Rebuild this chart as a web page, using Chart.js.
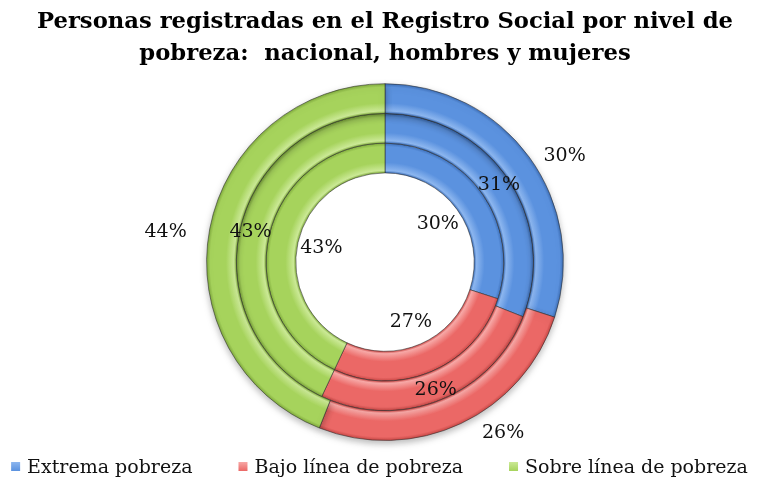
<!DOCTYPE html>
<html>
<head>
<meta charset="utf-8">
<script src="https://cdn.jsdelivr.net/npm/chart.js@4"></script>
<style>
html,body{margin:0;padding:0;background:#fff;}
canvas{display:block;}
</style>
</head>
<body>
<canvas id="c" width="759" height="486"></canvas>
<script>
const titleLines = ['Personas registradas en el Registro Social por nivel de', 'pobreza:  nacional, hombres y mujeres'];
const categories = ['Extrema pobreza', 'Bajo línea de pobreza', 'Sobre línea de pobreza'];
const seriesNames = ['Nacional', 'Hombres', 'Mujeres'];
const outerValues = [30, 26, 44];
const middleValues = [31, 26, 43];
const innerValues = [30, 27, 43];

const baseColors = ['#5b92df', '#eb6866', '#a6d35c'];
const lightColors = ['#8cb6ef', '#f7a8a6', '#cbe996'];
const darkColors = ['#3d6fb8', '#c84745', '#7faa3c'];
const FONT = "'DejaVu Serif', serif";

// label placement style (angle nudge in degrees, radial gap in px) for the outer ring labels
const outerLabelStyle = [{ da: 5.5, gap: 30 }, { da: -9.5, gap: 29 }, { da: -3, gap: 43 }];

function ringFill(ctx) {
  const chart = ctx.chart;
  const i = ctx.dataIndex;
  const area = chart.chartArea;
  if (!area) return baseColors[i];
  const meta = chart.getDatasetMeta(ctx.datasetIndex);
  const ctrl = meta.controller;
  if (!ctrl || !ctrl.outerRadius) return baseColors[i];
  const cx = (area.left + area.right) / 2;
  const cy = (area.top + area.bottom) / 2;
  const g = chart.ctx.createRadialGradient(cx, cy, ctrl.innerRadius, cx, cy, ctrl.outerRadius);
  g.addColorStop(0, darkColors[i]);
  g.addColorStop(0.08, lightColors[i]);
  g.addColorStop(0.35, baseColors[i]);
  g.addColorStop(0.88, baseColors[i]);
  g.addColorStop(1, darkColors[i]);
  return g;
}

const shadowPlugin = {
  id: 'ringShadow',
  beforeDatasetDraw(chart, args) {
    if (args.index !== 0) return;
    const ctx = chart.ctx;
    ctx.save();
    ctx.shadowColor = 'rgba(0,0,0,0.28)';
    ctx.shadowBlur = 7;
    ctx.shadowOffsetY = 3;
  },
  afterDatasetDraw(chart, args) {
    if (args.index !== 0) return;
    chart.ctx.restore();
  }
};

const labelPlugin = {
  id: 'pctLabels',
  afterDatasetsDraw(chart) {
    const ctx = chart.ctx;
    ctx.save();
    ctx.font = "19px " + FONT;
    ctx.fillStyle = '#111';
    ctx.textAlign = 'center';
    ctx.textBaseline = 'middle';
    chart.data.datasets.forEach((ds, di) => {
      const meta = chart.getDatasetMeta(di);
      meta.data.forEach((arc, j) => {
        let mid = (arc.startAngle + arc.endAngle) / 2;
        let r;
        if (di === 0) {
          const s = outerLabelStyle[j];
          mid += s.da * Math.PI / 180;
          r = arc.outerRadius + s.gap;
        } else if (di === 1) r = (arc.innerRadius + arc.outerRadius) / 2 + 4;
        else r = arc.innerRadius - 24;
        const x = arc.x + Math.cos(mid) * r;
        const y = arc.y + Math.sin(mid) * r;
        ctx.fillText(Math.round(ds.data[j]) + '%', x, y);
      });
    });
    ctx.restore();
  }
};

const legendPlugin = {
  id: 'customLegend',
  afterDraw(chart) {
    const ctx = chart.ctx;
    ctx.save();
    ctx.font = "19px " + FONT;
    ctx.textBaseline = 'middle';
    ctx.textAlign = 'left';
    const box = 9, gapBoxText = 7, gapItems = 46;
    const widths = categories.map(c => ctx.measureText(c).width);
    const total = widths.reduce((a, w) => a + box + gapBoxText + w, 0) + gapItems * (categories.length - 1);
    let x = (chart.width - total) / 2;
    const y = 468;
    categories.forEach((c, i) => {
      const g = ctx.createLinearGradient(0, y - 6, 0, y + 3);
      g.addColorStop(0, lightColors[i]);
      g.addColorStop(1, baseColors[i]);
      ctx.fillStyle = g;
      ctx.fillRect(x, y - 6, box, box);
      ctx.fillStyle = '#111';
      ctx.fillText(c, x + box + gapBoxText, y);
      x += box + gapBoxText + widths[i] + gapItems;
    });
    ctx.restore();
  }
};

const mkDataset = (label, data) => ({
  label, data,
  backgroundColor: ringFill,
  borderColor: 'rgba(40,40,40,0.55)',
  borderWidth: 1
});

new Chart(document.getElementById('c'), {
  type: 'doughnut',
  data: {
    labels: categories,
    datasets: [
      mkDataset(seriesNames[0], outerValues),
      mkDataset(seriesNames[1], middleValues),
      mkDataset(seriesNames[2], innerValues)
    ]
  },
  options: {
    responsive: false,
    animation: false,
    cutout: '50%',
    layout: { padding: { left: 11, right: 0, top: 0, bottom: 45 } },
    plugins: {
      tooltip: { enabled: false },
      legend: { display: false },
      title: {
        display: true,
        text: titleLines,
        color: '#000',
        font: { family: FONT, size: 22.7, weight: 'bold', lineHeight: 1.37 },
        padding: { top: 7, bottom: 14 }
      }
    }
  },
  plugins: [shadowPlugin, labelPlugin, legendPlugin]
});
</script>
</body>
</html>
